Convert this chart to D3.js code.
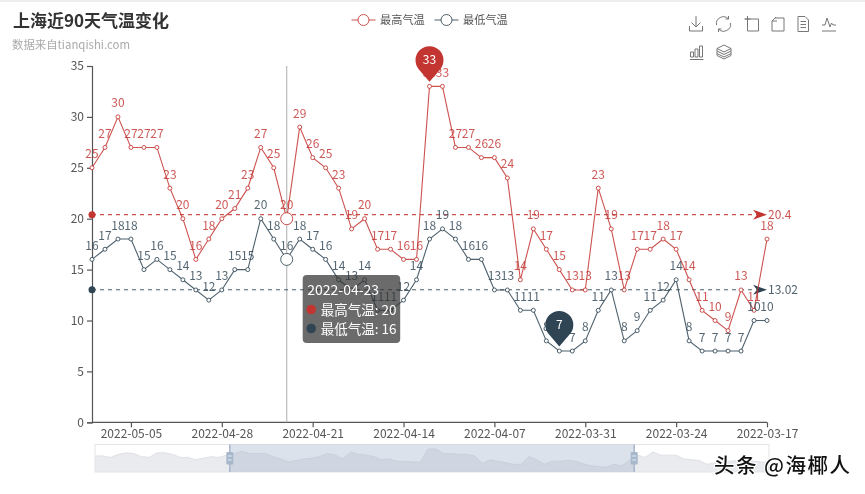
<!DOCTYPE html>
<html><head><meta charset="utf-8">
<script src="https://cdn.jsdelivr.net/npm/d3@7"></script>
<style>
html,body{margin:0;padding:0;background:#fff;overflow:hidden}
svg{display:block;filter:blur(0.35px)}
text{font-family:"Noto Sans CJK SC","Noto Sans",sans-serif}
</style></head><body><div id="c"></div>
<script>
const dates=["2022-05-08","2022-05-07","2022-05-06","2022-05-05","2022-05-04","2022-05-03","2022-05-02","2022-05-01","2022-04-30","2022-04-29","2022-04-28","2022-04-27","2022-04-26","2022-04-25","2022-04-24","2022-04-23","2022-04-22","2022-04-21","2022-04-20","2022-04-19","2022-04-18","2022-04-17","2022-04-16","2022-04-15","2022-04-14","2022-04-13","2022-04-12","2022-04-11","2022-04-10","2022-04-09","2022-04-08","2022-04-07","2022-04-06","2022-04-05","2022-04-04","2022-04-03","2022-04-02","2022-04-01","2022-03-31","2022-03-30","2022-03-29","2022-03-28","2022-03-27","2022-03-26","2022-03-25","2022-03-24","2022-03-23","2022-03-22","2022-03-21","2022-03-20","2022-03-19","2022-03-18","2022-03-17"];
const xTicks=["2022-05-05","2022-04-28","2022-04-21","2022-04-14","2022-04-07","2022-03-31","2022-03-24","2022-03-17"];
const yTicks=[0,5,10,15,20,25,30,35];
const highs=[25,27,30,27,27,27,23,20,16,18,20,21,23,27,25,20,29,26,25,23,19,20,17,17,16,16,33,33,27,27,26,26,24,14,19,17,15,13,13,23,19,13,17,17,18,17,14,11,10,9,13,11,18];
const lows=[16,17,18,18,15,16,15,14,13,12,13,15,15,20,18,16,18,17,16,14,13,14,11,11,12,14,18,19,18,16,16,13,13,11,11,8,7,7,8,11,13,8,9,11,12,14,8,7,7,7,7,10,10];
const shadowBefore=[24,24,22,26,28,27,23,22,28,28,26,22,22,19,21,23,22];
const shadowAfter=[25,22,29,25,25,25,20,19,18,13,15,17,17,18,18,17,16,16];
const seriesNames=["最高气温","最低气温"];
const meanValues=[20.4,13.02];
const colors=["#c23531","#2f4554"];
const hoverDate="2022-04-23";
const maxDate="2022-04-12", minDate="2022-04-02";

const W=865,H=494;
const svg=d3.select("#c").append("svg").attr("width",W).attr("height",H);
svg.append("rect").attr("width",W).attr("height",H).attr("fill","#fff");
svg.append("rect").attr("width",W).attr("height",2).attr("fill","#eeeeee");

const x=d3.scalePoint().domain(dates).range([92,767]);
const y=d3.scaleLinear().domain([0,35]).range([422.3,66]);

svg.append("text").attr("x",13).attr("y",27).attr("font-size",17).attr("font-weight",700).attr("fill","#333").text("上海近90天气温变化");
svg.append("text").attr("x",12).attr("y",49).attr("font-size",11.4).attr("fill","#aaa").text("数据来自tianqishi.com");

// legend
[[351.5,380],[434.5,463]].forEach((p,i)=>{
  const g=svg.append("g");
  g.append("line").attr("x1",p[0]).attr("x2",p[0]+24).attr("y1",20).attr("y2",20).attr("stroke",colors[i]).attr("stroke-opacity",.85);
  g.append("circle").attr("cx",p[0]+12).attr("cy",20).attr("r",5.5).attr("fill","#fff").attr("stroke",colors[i]).attr("stroke-opacity",.85);
  g.append("text").attr("x",p[1]).attr("y",24).attr("font-size",11.2).attr("fill","#555").text(seriesNames[i]);
});

// toolbox
const tool=svg.append("g").attr("fill","none").attr("stroke","#777").attr("stroke-width",1);
const icons=[
 [696,24,"M-6.5 2V7H6.5V2M0 -8V3M-4.5 -1.5L0 3L4.5 -1.5"],
 [723.5,24,"M-7 1A7 7 0 0 1 5 -5M7 -1A7 7 0 0 1 -5 5M5 -8V-5H2M-5 8V5H-2"],
 [752,24,"M-7 -5H6.5V7H-4.5V-8M-7.5 -5H-1.5"],
 [778,24,"M-3 -6H6V7H-6V-3M-6 -3L-2 -7M-6 -3H-1"],
 [803,24,"M-5 -7.5H2L5.5 -4V7.5H-5ZM-2.5 -2.5H3M-2.5 0.5H3M-2.5 3.5H3"],
 [829,24,"M-7 7H7M-7 1H-4L-2 -6L1 3L2.5 -1L4 1H7"],
 [696.5,52,"M-6.5 7.5H7M-6 5V0H-3V5ZM-1.5 5V-3H1.5V5ZM3 5V-6H6V5Z"],
 [724,52,"M0 -7L7 -3.5V3.5L0 7L-7 3.5V-3.5ZM-7 -3.5L0 0L7 -3.5M-7 -1L0 2.5L7 -1M-7 1.5L0 5L7 1.5"]
];
icons.forEach(d=>tool.append("path").attr("transform",`translate(${d[0]},${d[1]})`).attr("d",d[2]));

// axes
const axY=svg.append("g").attr("transform","translate(92,0)").call(d3.axisLeft(y).tickValues(yTicks).tickSize(5).tickPadding(3));
const axX=svg.append("g").attr("transform","translate(0,422.3)").call(d3.axisBottom(x).tickValues(xTicks).tickSize(5).tickPadding(2));
[axY,axX].forEach(a=>{
  a.selectAll("path,line").attr("stroke","#555").attr("stroke-width",1.2);
  a.selectAll("text").attr("font-size",12).attr("fill","#555").attr("font-family",'"Noto Sans CJK SC"');
});
axX.select("path").attr("d","M92,0H767");

// crosshair
svg.append("line").attr("x1",x(hoverDate)).attr("x2",x(hoverDate)).attr("y1",y(35)).attr("y2",y(0)).attr("stroke","#bbb").attr("stroke-width",1.2);

const seriesData=[highs,lows];
const line=d3.line().x((d,i)=>x(dates[i])).y(d=>y(d));

// mean lines
meanValues.forEach((m,i)=>{
  svg.append("line").attr("x1",x.range()[0]).attr("x2",x.range()[1]-8).attr("y1",y(m)).attr("y2",y(m))
    .attr("stroke",colors[i]).attr("stroke-opacity",.85).attr("stroke-dasharray","4,4").attr("stroke-width",1.1);
  svg.append("circle").attr("cx",x.range()[0]).attr("cy",y(m)).attr("r",3.5).attr("fill",colors[i]);
  svg.append("path").attr("transform",`translate(${x.range()[1]},${y(m)})`).attr("d","M0 0L-14 -5L-10 0L-14 5Z").attr("fill",colors[i]);
  svg.append("text").attr("x",x.range()[1]+1).attr("y",y(m)+4).attr("font-size",12).attr("fill",colors[i]).attr("fill-opacity",.85).text(m);
});

seriesData.forEach((vals,s)=>{
  svg.append("path").attr("d",line(vals)).attr("fill","none").attr("stroke",colors[s]).attr("stroke-opacity",.85).attr("stroke-width",1.1);
  svg.append("g").selectAll("circle").data(vals).join("circle")
    .attr("cx",(d,i)=>x(dates[i])).attr("cy",d=>y(d)).attr("r",(d,i)=>dates[i]===hoverDate?6:2)
    .attr("fill","#fff").attr("stroke",colors[s]).attr("stroke-opacity",.85).attr("stroke-width",1);
  svg.append("g").selectAll("text").data(vals).join("text")
    .attr("x",(d,i)=>x(dates[i])).attr("y",d=>y(d)-9.5).attr("text-anchor","middle").attr("font-size",12)
    .attr("fill",colors[s]).attr("fill-opacity",.82).text(d=>d);
});

// pins
function pin(date,val,col){
  const r=14,d=21.5,a=Math.acos(r/d),px=r*Math.sin(a),py=-d+r*Math.cos(a);
  const g=svg.append("g").attr("transform",`translate(${x(date)},${y(val)-4.6})`);
  g.append("path").attr("d",`M0 0L${px} ${py}A${r} ${r} 0 1 0 ${-px} ${py}Z`).attr("fill",col);
  g.append("text").attr("y",-d+4).attr("text-anchor","middle").attr("font-size",12).attr("fill","#fff").text(val);
}
pin(maxDate,d3.max(highs),colors[0]);
pin(minDate,d3.min(lows),colors[1]);

// slider
const sl={x0:95,x1:769,y0:444.5,y1:472};
const shadowVals=shadowBefore.concat(highs,shadowAfter);
const sx=d3.scaleLinear().domain([0,shadowVals.length-1]).range([sl.x0,sl.x1]);
const sy=d3.scaleLinear().domain([3,33]).range([sl.y1,449]);
const area=d3.area().x((d,i)=>sx(i)).y0(sl.y1).y1(d=>sy(d));
const zoomRange=[0.2,0.8].map(f=>sl.x0+f*(sl.x1-sl.x0));
svg.append("path").attr("d",area(shadowVals)).attr("fill","#e9ebee");
svg.append("path").attr("d",d3.line().x((d,i)=>sx(i)).y(d=>sy(d))(shadowVals)).attr("fill","none").attr("stroke","#dfe1e6");
svg.append("rect").attr("x",sl.x0).attr("y",sl.y0).attr("width",sl.x1-sl.x0).attr("height",sl.y1-sl.y0).attr("fill","none").attr("stroke","#e3e5e8");
svg.append("rect").attr("x",zoomRange[0]).attr("y",sl.y0).attr("width",zoomRange[1]-zoomRange[0]).attr("height",sl.y1-sl.y0).attr("fill","#a7b7cc").attr("fill-opacity",.4);
zoomRange.forEach(p=>{
  svg.append("line").attr("x1",p).attr("x2",p).attr("y1",sl.y0).attr("y2",sl.y1).attr("stroke","#a7b7cc").attr("stroke-width",1.5);
  svg.append("rect").attr("x",p-3.5).attr("y",452).attr("width",7).attr("height",12.5).attr("rx",1).attr("fill","#a7b7cc");
  [456,460].forEach(v=>svg.append("line").attr("x1",p-2).attr("x2",p+2).attr("y1",v).attr("y2",v).attr("stroke","#e6ebf2"));
});

// tooltip
const tipX=302.7,tipY=275;
const tip=svg.append("g");
tip.append("rect").attr("x",tipX).attr("y",tipY).attr("width",97.5).attr("height",68).attr("rx",4).attr("fill","#323232").attr("fill-opacity",.72);
tip.append("text").attr("x",tipX+4.5).attr("y",tipY+19.5).attr("font-size",14).attr("fill","#fff").text(hoverDate);
const hi=dates.indexOf(hoverDate);
seriesData.forEach((vals,s)=>{
  const yy=tipY+34.5+s*19;
  tip.append("circle").attr("cx",tipX+8.5).attr("cy",yy).attr("r",4.8).attr("fill",colors[s]);
  tip.append("text").attr("x",tipX+18).attr("y",yy+5).attr("font-size",13.5).attr("fill","#fff").text(seriesNames[s]+": "+vals[hi]);
});

// watermark
svg.append("text").attr("x",714).attr("y",473).attr("font-size",20.5).attr("font-weight",500).attr("fill","#111").attr("stroke","#fff").attr("stroke-width",2).attr("paint-order","stroke").attr("letter-spacing",1.5).text("头条 @海椰人");
</script></body></html>
